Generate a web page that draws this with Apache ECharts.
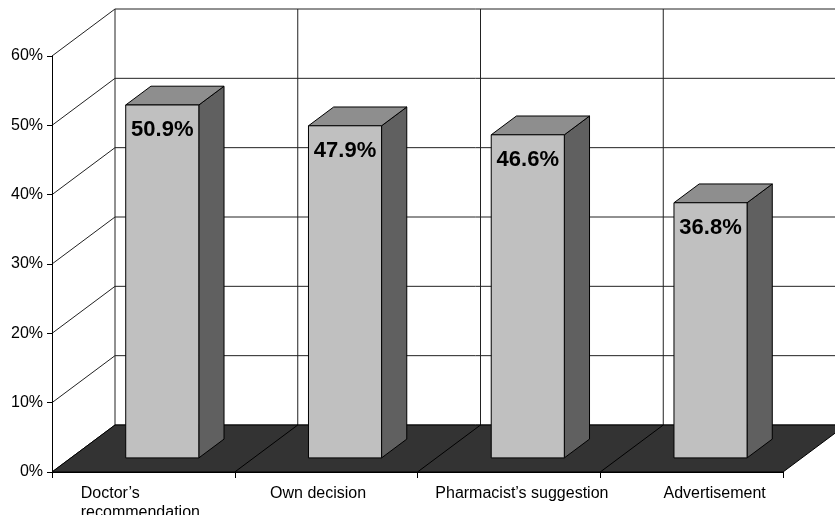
<!DOCTYPE html>
<html>
<head>
<meta charset="utf-8">
<script src="https://cdn.jsdelivr.net/npm/echarts@6/dist/echarts.min.js"></script>
<style>
  html, body { margin: 0; padding: 0; background: #ffffff; }
  #chart { width: 835px; height: 515px; }
</style>
</head>
<body>
<div id="chart"></div>
<script>
// Reasons for choosing a medicine (share of respondents, %)
const categories = ["Doctor\u2019s\nrecommendation", "Own decision", "Pharmacist\u2019s suggestion", "Advertisement"];
const shares = [50.9, 47.9, 46.6, 36.8];
const yTicks = [0, 10, 20, 30, 40, 50, 60];

// Horizontal nudges for the category labels (pixels)
const labelShift = [-3, -8, 13, 23];

// Oblique projection of the depth axis: full depth in screen pixels
const DEPTH = [63, -47];
// Bars sit between these depth fractions and take this share of a band
const BAR_FRONT = 0.3, BAR_BACK = 0.7, BAR_WIDTH = 0.4;

const FONT = "'Liberation Sans', Arial, sans-serif";
const LINE = '#222222';

const chart = echarts.init(document.getElementById('chart'), null, { renderer: 'canvas' });

function wallsRender(params, api) {
  const bw = api.size([1, 0])[0];
  const n = categories.length;
  const first = api.coord([0, 0]);
  const xL = first[0] - bw / 2;
  const xR = xL + n * bw;
  const y0 = first[1];
  const yTop = api.coord([0, yTicks[yTicks.length - 1]])[1];
  const [dx, dy] = DEPTH;
  const children = [];
  const line = (x1, y1, x2, y2, color) => ({
    type: 'line',
    shape: { x1, y1, x2, y2 },
    style: { stroke: color || LINE, lineWidth: 1 }
  });
  // back wall and side wall gridlines
  yTicks.forEach(t => {
    const y = api.coord([0, t])[1];
    children.push(line(xL + dx, y + dy, xR + dx, y + dy));
    children.push(line(xL, y, xL + dx, y + dy));
  });
  // vertical category dividers on the back wall
  for (let k = 0; k <= n; k++) {
    const x = xL + k * bw + dx;
    children.push(line(x, y0 + dy, x, yTop + dy));
  }
  // floor
  children.push({
    type: 'polygon',
    shape: { points: [[xL, y0], [xR, y0], [xR + dx, y0 + dy], [xL + dx, y0 + dy]] },
    style: { fill: '#333333', stroke: '#000000', lineWidth: 1 }
  });
  for (let k = 1; k < n; k++) {
    const x = xL + k * bw;
    children.push(line(x, y0, x + dx, y0 + dy, '#000000'));
  }
  return { type: 'group', children };
}

function barRender(params, api) {
  const i = api.value(0);
  const v = api.value(1);
  const base = api.coord([i, 0]);
  const top = api.coord([i, v]);
  const bw = api.size([1, 0])[0];
  const w = bw * BAR_WIDTH;
  const sx = DEPTH[0] * BAR_FRONT, sy = DEPTH[1] * BAR_FRONT;
  const ddx = DEPTH[0] * (BAR_BACK - BAR_FRONT), ddy = DEPTH[1] * (BAR_BACK - BAR_FRONT);
  const x0 = base[0] - w / 2 + sx;
  const x1 = x0 + w;
  const yb = base[1] + sy;
  const yt = top[1] + sy;
  const edge = { stroke: '#000000', lineWidth: 1 };
  return {
    type: 'group',
    children: [
      {
        type: 'polygon',
        shape: { points: [[x1, yt], [x1 + ddx, yt + ddy], [x1 + ddx, yb + ddy], [x1, yb]] },
        style: Object.assign({ fill: '#606060' }, edge)
      },
      {
        type: 'polygon',
        shape: { points: [[x0, yt], [x1, yt], [x1 + ddx, yt + ddy], [x0 + ddx, yt + ddy]] },
        style: Object.assign({ fill: '#8e8e8e' }, edge)
      },
      {
        type: 'rect',
        shape: { x: x0, y: yt, width: w, height: yb - yt },
        style: Object.assign({ fill: '#c0c0c0' }, edge)
      },
      {
        type: 'text',
        x: (x0 + x1) / 2,
        y: yt + 25,
        style: {
          text: v.toFixed(1) + '%',
          fill: '#000000',
          font: 'bold 22px ' + FONT,
          align: 'center',
          verticalAlign: 'middle'
        }
      }
    ]
  };
}

chart.setOption({
  animation: false,
  backgroundColor: '#ffffff',
  grid: { left: 52, right: 52, top: 56, bottom: 43, containLabel: false, outerBoundsMode: 'none' },
  xAxis: {
    type: 'category',
    data: categories.map((c, i) => ({
      value: c,
      textStyle: {
        padding: labelShift[i] >= 0 ? [0, 0, 0, labelShift[i] * 2] : [0, -labelShift[i] * 2, 0, 0]
      }
    })),
    boundaryGap: true,
    z: 5,
    axisLine: { show: true, lineStyle: { color: '#000000', width: 1 } },
    axisTick: { show: true, length: 6, inside: false, lineStyle: { color: '#000000' } },
    axisLabel: {
      interval: 0,
      margin: 12,
      color: '#000000',
      fontFamily: FONT,
      fontSize: 16,
      lineHeight: 19,
      hideOverlap: false,
      formatter: (val) => val.split('\n').map(s => '{l|' + s + '}').join('\n'),
      rich: { l: { align: 'left', fontFamily: FONT, fontSize: 16, lineHeight: 19, color: '#000000' } }
    },
    splitLine: { show: false }
  },
  yAxis: {
    type: 'value',
    min: yTicks[0],
    max: yTicks[yTicks.length - 1],
    interval: 10,
    z: 5,
    axisLine: { show: true, lineStyle: { color: '#000000', width: 1 } },
    axisTick: { show: true, length: 5, inside: false, lineStyle: { color: '#000000' } },
    axisLabel: {
      margin: 9,
      color: '#000000',
      fontFamily: FONT,
      fontSize: 16,
      formatter: '{value}%'
    },
    splitLine: { show: false }
  },
  series: [
    {
      type: 'custom',
      name: 'walls',
      z: 1,
      silent: true,
      clip: false,
      renderItem: wallsRender,
      data: [[0, 0]]
    },
    {
      type: 'custom',
      name: 'shares',
      z: 3,
      clip: false,
      renderItem: barRender,
      encode: { x: 0, y: 1 },
      data: shares.map((v, i) => [i, v])
    }
  ]
});
</script>
</body>
</html>
